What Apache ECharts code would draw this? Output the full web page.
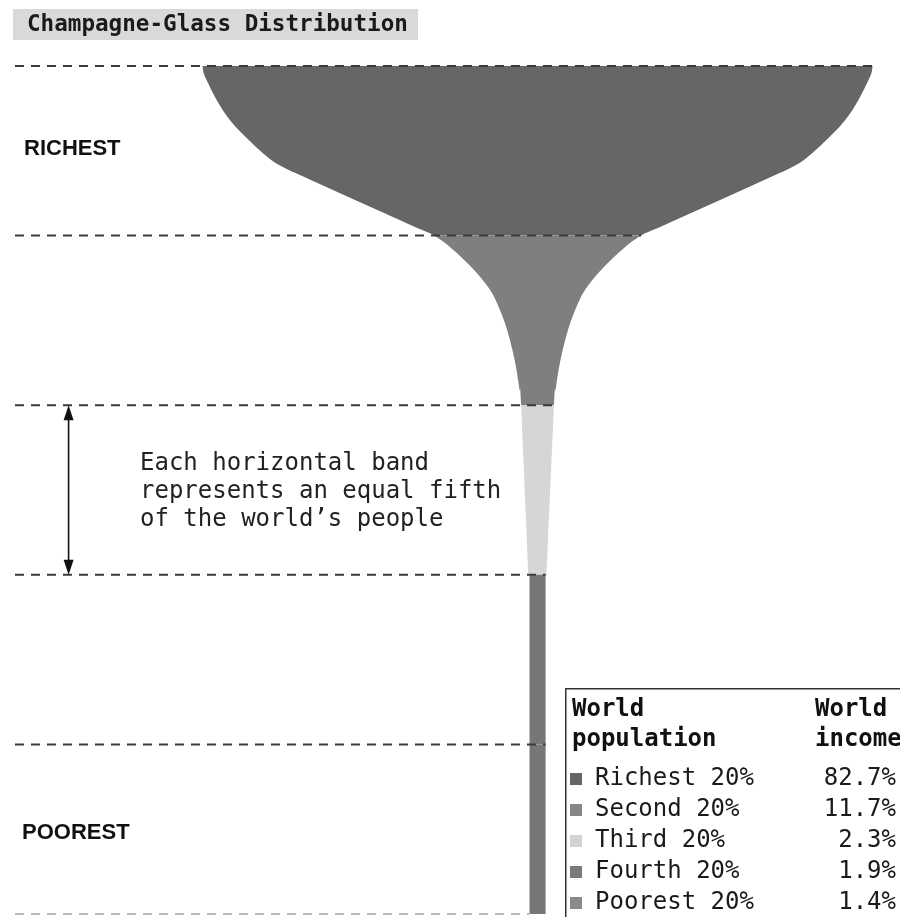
<!DOCTYPE html>
<html>
<head>
<meta charset="utf-8">
<script src="https://cdn.jsdelivr.net/npm/echarts@6/dist/echarts.min.js"></script>
<style>html,body{margin:0;padding:0;background:#fff}#c{width:900px;height:917px}</style>
</head>
<body>
<div id="c"></div>
<script>
// ---------- data ----------
const groups = ['Richest 20%', 'Second 20%', 'Third 20%', 'Fourth 20%', 'Poorest 20%'];
const incomeShare = [82.7, 11.7, 2.3, 1.9, 1.4];
const incomeLabels = ['82.7%', '11.7%', '2.3%', '1.9%', '1.4%'];
const bandBounds = [0, 20, 40, 60, 80, 100];          // cumulative share of world population (richest at top)
const sideLabels = ['RICHEST', 'POOREST'];
const titleText = 'Champagne-Glass Distribution';
const noteLines = ['Each horizontal band', 'represents an equal fifth', 'of the world\u2019s people'];
const legendHeadLeft = ['World', 'population'];
const legendHeadRight = ['World', 'income'];

// glass outline: population percentile -> glass width (rim = 100)
const band1Pct   = [0, 0.8, 1.65, 4.0, 6.4, 8.7, 11.1, 12.6, 14.2, 15.8, 17.4, 19.0, 20];
const band1Width = [100, 99.7, 98.8, 95.8, 91.8, 86.3, 79.4, 72.4, 63.4, 54.5, 45.5, 36.6, 30.9];
const band2Pct   = [20, 21.6, 24, 26.4, 28.8, 31.1, 33.5, 35.8, 38.2, 40];
const band2Width = [30.9, 25.4, 19.1, 14.2, 11.2, 9.1, 7.5, 6.3, 5.4, 4.9];
const band3Pct   = [40, 60];
const band3Width = [4.9, 2.7];
const band4Pct   = [60, 80];
const band4Width = [2.4, 2.4];
const band5Pct   = [80, 100];
const band5Width = [2.4, 2.4];

// ---------- styling ----------
const bandColors = ['#666666', '#7f7f7f', '#d6d6d6', '#777777', '#777777'];
const swatchColors = ['#666666', '#868686', '#d4d4d4', '#7a7a7a', '#8a8a8a'];
const MONO = '"DejaVu Sans Mono", monospace';

const profiles = [
  [band1Pct, band1Width], [band2Pct, band2Width], [band3Pct, band3Width],
  [band4Pct, band4Width], [band5Pct, band5Width]
];
const X_MIN = -78, X_MAX = 54.1;
const ARROW_X = -70;

// Catmull-Rom -> cubic bezier through given pixel points (with optional ghost neighbours)
function curveThrough(pts, before, after) {
  let d = '';
  const n = pts.length;
  for (let i = 0; i < n - 1; i++) {
    const p0 = i === 0 ? (before || pts[0]) : pts[i - 1];
    const p1 = pts[i], p2 = pts[i + 1];
    const p3 = i + 2 < n ? pts[i + 2] : (after || pts[n - 1]);
    const c1 = [p1[0] + (p2[0] - p0[0]) / 6, p1[1] + (p2[1] - p0[1]) / 6];
    const c2 = [p2[0] - (p3[0] - p1[0]) / 6, p2[1] - (p3[1] - p1[1]) / 6];
    d += ' C' + c1[0] + ' ' + c1[1] + ' ' + c2[0] + ' ' + c2[1] + ' ' + p2[0] + ' ' + p2[1];
  }
  return d;
}

const chart = echarts.init(document.getElementById('c'), null, {renderer: 'canvas'});

const graphics = [];
// title
graphics.push({type: 'rect', left: 13, top: 9, shape: {width: 405, height: 31}, style: {fill: '#d9d9d9'}, z: 10});
graphics.push({type: 'text', x: 27, y: 25, style: {text: titleText, font: 'bold 22.6px ' + MONO, fill: '#1a1a1a', verticalAlign: 'middle'}, z: 11});
// side labels
graphics.push({type: 'text', x: 24, y: 149, style: {text: sideLabels[0], font: 'bold 22px "Liberation Sans", Arial, sans-serif', fill: '#111', verticalAlign: 'middle'}, z: 11});
graphics.push({type: 'text', x: 22, y: 833, style: {text: sideLabels[1], font: 'bold 22px "Liberation Sans", Arial, sans-serif', fill: '#111', verticalAlign: 'middle'}, z: 11});
// note
noteLines.forEach((t, i) => {
  graphics.push({type: 'text', x: 140, y: 464 + i * 28, style: {text: t, font: '24px ' + MONO, fill: '#222', verticalAlign: 'middle'}, z: 11});
});
// legend box
graphics.push({type: 'rect', left: 565, top: 688, shape: {width: 400, height: 300}, style: {fill: '#fff', stroke: '#333', lineWidth: 1.5}, z: 20});
legendHeadLeft.forEach((t, i) => {
  graphics.push({type: 'text', x: 572, y: 710 + i * 30, style: {text: t, font: 'bold 24px ' + MONO, fill: '#111', verticalAlign: 'middle'}, z: 21});
});
legendHeadRight.forEach((t, i) => {
  graphics.push({type: 'text', x: 815, y: 710 + i * 30, style: {text: t, font: 'bold 24px ' + MONO, fill: '#111', verticalAlign: 'middle'}, z: 21});
});
groups.forEach((g, i) => {
  const cy = 779 + i * 31;
  graphics.push({type: 'rect', left: 570, top: cy - 6, shape: {width: 12, height: 12}, style: {fill: swatchColors[i]}, z: 21});
  graphics.push({type: 'text', x: 595, y: cy, style: {text: g, font: '24px ' + MONO, fill: '#1a1a1a', verticalAlign: 'middle'}, z: 21});
  graphics.push({type: 'text', x: 896, y: cy, style: {text: incomeLabels[i], font: '24px ' + MONO, fill: '#1a1a1a', align: 'right', verticalAlign: 'middle'}, z: 21});
});

const option = {
  animation: false,
  backgroundColor: '#ffffff',
  grid: {left: 15, right: 0, top: 66, bottom: 3},
  xAxis: {type: 'value', min: X_MIN, max: X_MAX, show: false},
  yAxis: {type: 'value', min: 0, max: 100, inverse: true, show: false},
  graphic: graphics,
  series: [
    {
      name: 'glass', type: 'custom', z: 2,
      data: incomeShare.map((v, i) => [i, v]),
      renderItem: function (params, api) {
        const i = api.value(0);
        const pcts = profiles[i][0], widths = profiles[i][1];
        const side = (s) => pcts.map((p, k) => api.coord([s * widths[k] / 2, p]));
        const left = side(-1), right = side(1);
        // ghost neighbours for continuous tangents where the outline continues across bands
        const prev = profiles[i - 1], next = profiles[i + 1];
        const joinPrev = prev && prev[1][prev[1].length - 1] === widths[0] && pcts.length > 2;
        const joinNext = next && next[1][0] === widths[widths.length - 1] && pcts.length > 2;
        const ghost = (prof, idx, s) => api.coord([s * prof[1][idx] / 2, prof[0][idx]]);
        const lb = joinPrev ? ghost(prev, prev[0].length - 2, -1) : null;
        const la = joinNext ? ghost(next, 1, -1) : null;
        const rb = joinPrev ? ghost(prev, prev[0].length - 2, 1) : null;
        const ra = joinNext ? ghost(next, 1, 1) : null;
        const rRev = right.slice().reverse();
        let d = 'M' + left[0][0] + ' ' + left[0][1] + curveThrough(left, lb, la);
        d += ' L' + rRev[0][0] + ' ' + rRev[0][1] + curveThrough(rRev, ra, rb) + ' Z';
        return {type: 'path', shape: {pathData: d}, style: {fill: bandColors[i], stroke: null}};
      }
    },
    {
      name: 'dividers', type: 'custom', z: 3,
      data: bandBounds.map((b, k) => [k, b]),
      renderItem: function (params, api) {
        const k = api.value(0), b = api.value(1);
        let endX;
        if (k < profiles.length) endX = profiles[k][1][0] / 2;
        else { const w = profiles[k - 1][1]; endX = -w[w.length - 1] / 2; }
        const p1 = api.coord([X_MIN, b]), p2 = api.coord([endX, b]);
        const last = k === bandBounds.length - 1;
        return {
          type: 'line',
          shape: {x1: p1[0], y1: p1[1], x2: p2[0], y2: p2[1]},
          style: {stroke: last ? '#b8b8b8' : '#3a3a3a', lineWidth: 2, lineDash: [9, 7]}
        };
      }
    },
    {
      name: 'arrow', type: 'custom', z: 4,
      data: [[bandBounds[2], bandBounds[3]]],
      renderItem: function (params, api) {
        const a = api.coord([ARROW_X, api.value(0)]);
        const b = api.coord([ARROW_X, api.value(1)]);
        const hl = 15, hw = 5;
        return {
          type: 'group',
          children: [
            {type: 'line', shape: {x1: a[0], y1: a[1] + 4, x2: b[0], y2: b[1] - 4}, style: {stroke: '#111', lineWidth: 1.6}},
            {type: 'polygon', shape: {points: [[a[0], a[1]], [a[0] - hw, a[1] + hl], [a[0] + hw, a[1] + hl]]}, style: {fill: '#111'}},
            {type: 'polygon', shape: {points: [[b[0], b[1]], [b[0] - hw, b[1] - hl], [b[0] + hw, b[1] - hl]]}, style: {fill: '#111'}}
          ]
        };
      }
    }
  ]
};
chart.setOption(option);
</script>
</body>
</html>
